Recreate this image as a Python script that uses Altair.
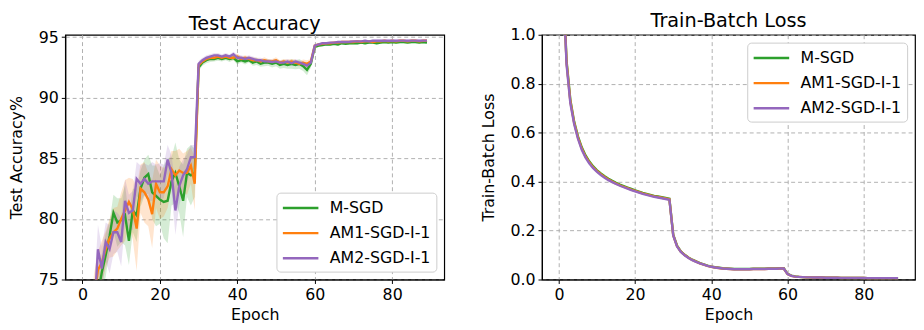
import altair as alt
import pandas as pd

epochs = list(range(90))
series = ["M-SGD", "AM1-SGD-I-1", "AM2-SGD-I-1"]
colors = ["#2ca02c", "#ff7f0e", "#9467bd"]

acc_msgd = [55.0, 64.0, 69.0, 72.5, 73.8, 75.6, 77.0, 78.6, 80.5, 79.7,
            79.9, 80.3, 78.2, 80.7, 80.3, 82.5, 83.4, 83.7, 82.2, 81.9,
            81.6, 81.4, 81.5, 83.1, 83.8, 82.7, 81.5, 83.8, 83.6, 83.8,
            92.5, 92.9, 93.1, 93.2, 93.2, 93.3, 93.2, 93.3, 93.2, 93.3,
            93.0, 93.1, 93.0, 93.1, 92.9, 93.0, 92.8, 92.9, 92.9, 92.8,
            92.9, 92.7, 92.8, 92.7, 92.8, 92.7, 92.8, 92.6, 92.3, 92.8,
            94.2, 94.3, 94.35, 94.4, 94.4, 94.45, 94.4, 94.5, 94.45, 94.5,
            94.5, 94.5, 94.55, 94.5, 94.55, 94.55, 94.5, 94.55, 94.6, 94.55,
            94.6, 94.55, 94.6, 94.6, 94.55, 94.6, 94.6, 94.55, 94.6, 94.55]
acc_am1 = [57.0, 65.0, 70.0, 73.5, 75.8, 76.4, 77.5, 78.4, 78.9, 79.2,
           80.0, 80.7, 81.4, 80.8, 79.2, 82.5, 82.2, 81.6, 80.4, 82.9,
           82.2, 82.2, 82.7, 84.1, 83.6, 84.0, 83.8, 83.8, 84.4, 82.9,
           92.7, 93.0, 93.2, 93.3, 93.3, 93.4, 93.3, 93.4, 93.3, 93.3,
           93.4, 93.2, 93.3, 93.2, 93.1, 93.1, 93.0, 93.1, 93.0, 93.0,
           93.1, 92.9, 93.0, 92.9, 93.0, 92.9, 92.8, 92.9, 92.8, 93.0,
           94.3, 94.4, 94.45, 94.5, 94.5, 94.55, 94.55, 94.6, 94.6, 94.6,
           94.6, 94.65, 94.6, 94.65, 94.65, 94.6, 94.65, 94.65, 94.7, 94.65,
           94.7, 94.65, 94.7, 94.7, 94.65, 94.7, 94.7, 94.65, 94.7, 94.7]
acc_am2 = [58.0, 66.0, 70.0, 72.0, 77.5, 75.9, 78.1, 77.5, 78.9, 78.9,
           78.1, 81.5, 80.5, 80.7, 83.3, 82.9, 83.3, 82.9, 83.1, 83.1,
           83.1, 83.1, 84.9, 83.8, 80.7, 82.7, 83.6, 84.1, 85.1, 85.1,
           92.8, 93.1, 93.3, 93.4, 93.5, 93.5, 93.4, 93.5, 93.4, 93.6,
           93.3, 93.3, 93.2, 93.3, 93.2, 93.1, 93.1, 93.0, 93.0, 92.95,
           93.0, 92.9, 92.9, 93.0, 92.85, 93.0, 92.9, 92.8, 92.65, 92.9,
           94.3, 94.4, 94.5, 94.5, 94.55, 94.55, 94.6, 94.6, 94.6, 94.62,
           94.65, 94.65, 94.65, 94.7, 94.65, 94.7, 94.7, 94.7, 94.7, 94.7,
           94.72, 94.7, 94.72, 94.72, 94.7, 94.72, 94.72, 94.7, 94.72, 94.72]

sd_msgd = [2.0, 2.0, 2.0, 2.0, 1.5, 1.5, 1.8, 1.2, 1.5, 2.0,
           1.8, 2.5, 2.0, 1.8, 2.2, 1.5, 1.5, 1.6, 2.2, 2.5,
           2.0, 3.0, 3.5, 2.0, 2.5, 2.2, 3.0, 2.0, 2.5, 2.0,
           0.3, 0.25, 0.25, 0.25, 0.2, 0.25, 0.2, 0.2, 0.25, 0.2,
           0.25, 0.2, 0.25, 0.2, 0.25, 0.3, 0.25, 0.3, 0.25, 0.3,
           0.3, 0.3, 0.35, 0.3, 0.4, 0.35, 0.4, 0.4, 0.45, 0.3,
           0.15, 0.12, 0.1, 0.1, 0.1, 0.1, 0.1, 0.1, 0.1, 0.1,
           0.1, 0.1, 0.1, 0.1, 0.1, 0.1, 0.1, 0.1, 0.1, 0.1,
           0.1, 0.1, 0.1, 0.1, 0.1, 0.1, 0.1, 0.1, 0.1, 0.1]
sd_am1 = [2.0, 2.0, 2.0, 2.0, 1.5, 1.8, 1.5, 1.6, 2.0, 1.8,
          2.2, 2.5, 2.0, 2.5, 3.5, 2.0, 2.5, 2.2, 2.8, 2.0,
          2.2, 2.0, 1.8, 1.5, 2.0, 1.8, 1.6, 1.8, 1.5, 2.2,
          0.25, 0.2, 0.2, 0.2, 0.2, 0.2, 0.2, 0.2, 0.2, 0.2,
          0.25, 0.2, 0.2, 0.2, 0.25, 0.2, 0.2, 0.25, 0.2, 0.2,
          0.25, 0.2, 0.2, 0.25, 0.2, 0.25, 0.2, 0.25, 0.3, 0.2,
          0.12, 0.1, 0.1, 0.1, 0.1, 0.1, 0.1, 0.1, 0.1, 0.1,
          0.1, 0.1, 0.1, 0.1, 0.1, 0.1, 0.1, 0.1, 0.1, 0.1,
          0.1, 0.1, 0.1, 0.1, 0.1, 0.1, 0.1, 0.1, 0.1, 0.1]
sd_am2 = [2.0, 2.0, 2.0, 2.0, 2.0, 1.8, 1.6, 2.0, 1.8, 1.6,
          2.0, 1.8, 1.5, 1.6, 1.4, 1.5, 1.3, 1.5, 1.6, 1.4,
          1.5, 1.4, 1.2, 1.5, 2.0, 1.6, 1.3, 1.2, 1.0, 1.0,
          0.25, 0.2, 0.2, 0.2, 0.2, 0.2, 0.2, 0.2, 0.2, 0.2,
          0.25, 0.2, 0.2, 0.2, 0.2, 0.2, 0.2, 0.2, 0.2, 0.2,
          0.2, 0.2, 0.2, 0.2, 0.2, 0.2, 0.2, 0.2, 0.25, 0.2,
          0.12, 0.1, 0.1, 0.1, 0.1, 0.1, 0.1, 0.1, 0.1, 0.1,
          0.1, 0.1, 0.1, 0.1, 0.1, 0.1, 0.1, 0.1, 0.1, 0.1,
          0.1, 0.1, 0.1, 0.1, 0.1, 0.1, 0.1, 0.1, 0.1, 0.1]

loss_msgd = [2.30, 1.27, 0.895, 0.735, 0.645, 0.585, 0.540, 0.507, 0.482, 0.462,
             0.446, 0.433, 0.422, 0.412, 0.403, 0.395, 0.388, 0.382, 0.376, 0.370,
             0.364, 0.359, 0.354, 0.350, 0.346, 0.342, 0.339, 0.336, 0.333, 0.330,
             0.183, 0.138, 0.115, 0.101, 0.090, 0.081, 0.074, 0.067, 0.062, 0.057,
             0.053, 0.050, 0.048, 0.046, 0.045, 0.044, 0.043, 0.043, 0.043, 0.043,
             0.043, 0.044, 0.044, 0.044, 0.044, 0.045, 0.045, 0.045, 0.046, 0.046,
             0.023, 0.016, 0.013, 0.011, 0.010, 0.009, 0.009, 0.008, 0.008, 0.008,
             0.007, 0.007, 0.007, 0.007, 0.006, 0.006, 0.006, 0.006, 0.006, 0.006,
             0.006, 0.005, 0.005, 0.005, 0.005, 0.005, 0.005, 0.005, 0.005, 0.005]
loss_am1 = [2.30, 1.26, 0.888, 0.728, 0.640, 0.580, 0.535, 0.502, 0.478, 0.458,
            0.443, 0.430, 0.419, 0.409, 0.400, 0.392, 0.385, 0.379, 0.373, 0.367,
            0.362, 0.357, 0.352, 0.348, 0.344, 0.340, 0.337, 0.334, 0.331, 0.328,
            0.181, 0.136, 0.114, 0.100, 0.089, 0.080, 0.073, 0.066, 0.061, 0.056,
            0.052, 0.049, 0.047, 0.045, 0.044, 0.043, 0.042, 0.042, 0.042, 0.042,
            0.042, 0.043, 0.043, 0.043, 0.043, 0.044, 0.044, 0.044, 0.045, 0.045,
            0.022, 0.015, 0.012, 0.011, 0.010, 0.009, 0.009, 0.008, 0.008, 0.008,
            0.007, 0.007, 0.007, 0.007, 0.006, 0.006, 0.006, 0.006, 0.006, 0.006,
            0.006, 0.005, 0.005, 0.005, 0.005, 0.005, 0.005, 0.005, 0.005, 0.005]
loss_am2 = [2.30, 1.25, 0.880, 0.720, 0.635, 0.575, 0.530, 0.498, 0.474, 0.455,
            0.440, 0.427, 0.416, 0.406, 0.398, 0.390, 0.383, 0.377, 0.371, 0.365,
            0.360, 0.355, 0.350, 0.346, 0.342, 0.338, 0.335, 0.332, 0.329, 0.326,
            0.180, 0.135, 0.113, 0.099, 0.088, 0.079, 0.072, 0.066, 0.061, 0.056,
            0.052, 0.049, 0.047, 0.045, 0.044, 0.043, 0.042, 0.042, 0.042, 0.042,
            0.042, 0.043, 0.043, 0.043, 0.043, 0.044, 0.044, 0.044, 0.045, 0.045,
            0.022, 0.015, 0.012, 0.011, 0.010, 0.009, 0.009, 0.008, 0.008, 0.008,
            0.007, 0.007, 0.007, 0.007, 0.006, 0.006, 0.006, 0.006, 0.006, 0.006,
            0.006, 0.005, 0.005, 0.005, 0.005, 0.005, 0.005, 0.005, 0.005, 0.005]

rows = []
for name, acc, sd, loss in zip(series, [acc_msgd, acc_am1, acc_am2],
                               [sd_msgd, sd_am1, sd_am2],
                               [loss_msgd, loss_am1, loss_am2]):
    for e, a, s, l in zip(epochs, acc, sd, loss):
        rows.append({"epoch": e, "series": name, "method": name,
                     "acc": a, "lo": a - s, "hi": a + s, "loss": l})
df = pd.DataFrame(rows)

FONT = "DejaVu Sans"
FS = 16
LW = 2.4

xscale = alt.Scale(domain=[-4.45, 93.45], nice=False, zero=False)
xaxis = alt.Axis(values=[0, 20, 40, 60, 80], title="Epoch")
x = alt.X("epoch:Q", scale=xscale, axis=xaxis)

acc_scale = alt.Scale(domain=[75, 95.2], nice=False, zero=False)
acc_axis = alt.Axis(values=[75, 80, 85, 90, 95], title="Test Accuracy%")


def legend(orient):
    return alt.Legend(title=None, orient=orient, offset=8,
                      symbolType="M-1,0H3", symbolSize=324, symbolStrokeWidth=LW,
                      labelOffset=28, labelFontSize=FS, labelFont=FONT,
                      labelColor="black",
                      rowPadding=6.5, padding=5, fillColor="white",
                      strokeColor="#cccccc", cornerRadius=4)


bands = [
    alt.Chart(df).transform_filter(alt.datum.series == s)
    .mark_area(color=c, opacity=0.2, clip=True)
    .encode(x=x, y=alt.Y("lo:Q", scale=acc_scale, axis=acc_axis), y2="hi:Q")
    for s, c in zip(series, colors)
]
acc_line = alt.Chart(df).mark_line(strokeWidth=LW, clip=True).encode(
    x=x,
    y=alt.Y("acc:Q", scale=acc_scale, axis=acc_axis),
    color=alt.Color("series:N", scale=alt.Scale(domain=series, range=colors),
                    legend=legend("bottom-right")),
)
left = alt.layer(*bands, acc_line).properties(width=384, height=248, title="Test Accuracy")

loss_line = alt.Chart(df).mark_line(strokeWidth=LW, clip=True).encode(
    x=x,
    y=alt.Y("loss:Q", scale=alt.Scale(domain=[0, 1], nice=False),
            axis=alt.Axis(values=[0, 0.2, 0.4, 0.6, 0.8, 1.0], format=".1f",
                          title="Train-Batch Loss")),
    stroke=alt.Stroke("method:N", scale=alt.Scale(domain=series, range=colors),
                      legend=legend("top-right")),
)
right = loss_line.properties(width=378, height=248, title="Train-Batch Loss")

chart = alt.hconcat(left, right, spacing=34).resolve_scale(
    stroke="independent", color="independent", y="independent"
).resolve_legend(stroke="independent", color="independent").configure(
    font=FONT, padding=0
).configure_view(
    stroke="black", strokeWidth=1.2
).configure_axis(
    grid=True, gridDash=[4, 3], gridColor="#b0b0b0", gridWidth=1,
    domainColor="black", domainWidth=1.2, tickColor="black", tickSize=4,
    labelColor="black", labelFont=FONT, labelFontSize=FS, labelPadding=3,
    titleFont=FONT, titleFontSize=FS, titleFontWeight="normal", titleColor="black",
).configure_axisX(titlePadding=5).configure_axisY(titlePadding=14).configure_title(
    font=FONT, fontSize=19.5, fontWeight="normal", color="black", offset=-5
)

chart.save("out.html", embed_options={"renderer": "svg", "actions": False})
